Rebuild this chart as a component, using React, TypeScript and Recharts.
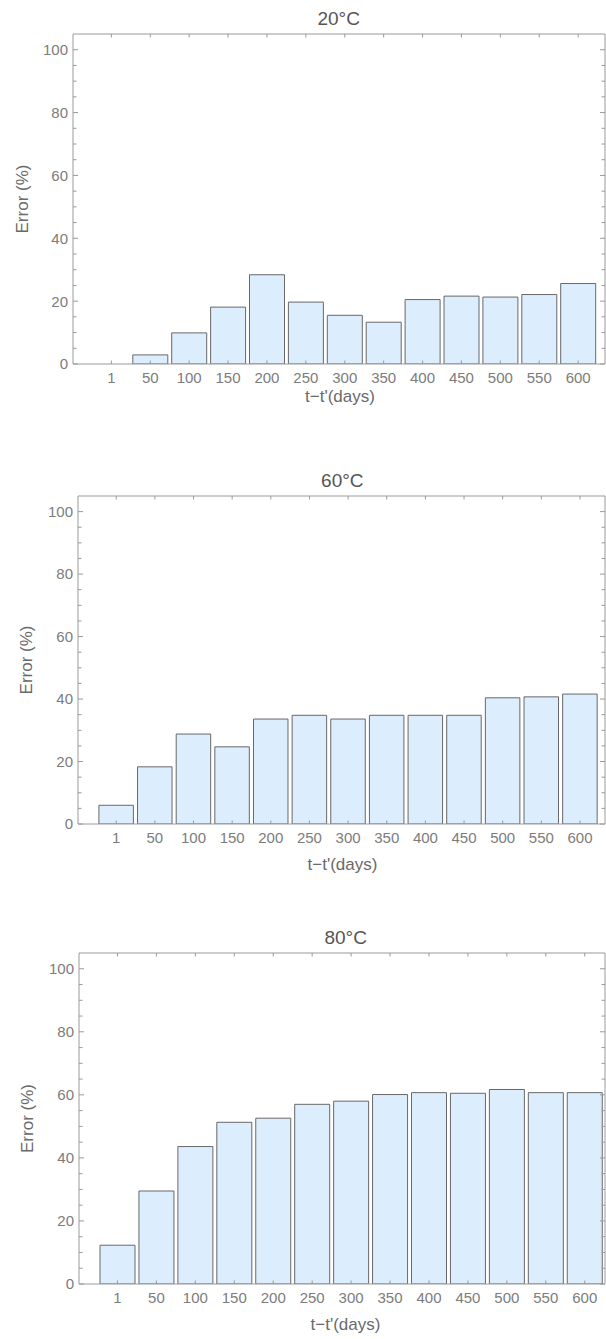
import React from 'react';
import { BarChart, Bar, XAxis, YAxis, Label } from 'recharts';

// ---- data ----
const categories = ['1', '50', '100', '150', '200', '250', '300', '350', '400', '450', '500', '550', '600'];
const error20C = [0, 2.9, 9.9, 18.1, 28.4, 19.7, 15.5, 13.3, 20.5, 21.6, 21.3, 22.1, 25.6];
const error60C = [6.0, 18.3, 28.8, 24.7, 33.6, 34.8, 33.6, 34.8, 34.8, 34.8, 40.4, 40.7, 41.6];
const error80C = [12.3, 29.5, 43.6, 51.3, 52.6, 57.0, 58.0, 60.1, 60.7, 60.5, 61.7, 60.7, 60.7];
const panelTitles = ['20°C', '60°C', '80°C'];
const yTicks = [0, 5, 10, 15, 20, 25, 30, 35, 40, 45, 50, 55, 60, 65, 70, 75, 80, 85, 90, 95, 100];
const yMajorTicks = [0, 20, 40, 60, 80, 100];
const yDomain = [0, 105];
const xAxisTitle = 't\u2212t\'(days)';
const yAxisTitle = 'Error (%)';

// ---- styles ----
const FONT = '"Liberation Sans", Arial, sans-serif';
const FRAME = '#9a9a9a';
const TICK_TEXT = '#7c7c7c';
const LABEL_TEXT = '#6a6a6a';
const TITLE_TEXT = '#555555';
const BAR_FILL = '#dcedfd';
const BAR_STROKE = '#686868';

const layouts = [
  { top: 0, height: 420, marginTop: 33, leftWidth: 73, bottomHeight: 56, padL: 18.9, padR: 7.4, barSize: 35, yLabelX: 27.7, titleCx: 338.7, titleCy: 18, xLabelCx: 340, xLabelBase: 402 },
  { top: 460, height: 420, marginTop: 35, leftWidth: 78, bottomHeight: 56, padL: 18.9, padR: 5.7, barSize: 34.5, yLabelX: 32.4, titleCx: 342.3, titleCy: 20, xLabelCx: 342.5, xLabelBase: 410 },
  { top: 920, height: 419, marginTop: 32, leftWidth: 79, bottomHeight: 55, padL: 19, padR: 0.8, barSize: 35, yLabelX: 33.1, titleCx: 345.7, titleCy: 17, xLabelCx: 345.5, xLabelBase: 410 },
];

const seriesList = [error20C, error60C, error80C];

const LeftTick = (props: any) => {
  const { x, y, payload } = props;
  const v = payload.value;
  const major = yMajorTicks.includes(v);
  return (
    <g>
      <line x1={x} x2={x + (major ? 5 : 3.5)} y1={y} y2={y} stroke={FRAME} strokeWidth={1} />
      {major && (
        <text x={x - 5} y={y + 5.4} textAnchor="end" fontSize={15} fontFamily={FONT} fill={TICK_TEXT}>
          {v}
        </text>
      )}
    </g>
  );
};

const RightTick = (props: any) => {
  const { x, y, payload } = props;
  const major = yMajorTicks.includes(payload.value);
  return <line x1={x - (major ? 5 : 3.5)} x2={x} y1={y} y2={y} stroke={FRAME} strokeWidth={1} />;
};

const BottomTick = (props: any) => {
  const { x, y, payload } = props;
  return (
    <g>
      <line x1={x} x2={x} y1={y} y2={y - 3.5} stroke={FRAME} strokeWidth={1} />
      <text x={x} y={y + 19} textAnchor="middle" fontSize={15} fontFamily={FONT} fill={TICK_TEXT}>
        {payload.value}
      </text>
    </g>
  );
};

const TopTick = (props: any) => {
  const { x, y } = props;
  return <line x1={x} x2={x} y1={y} y2={y + 3.5} stroke={FRAME} strokeWidth={1} />;
};

function Panel({ index }: { index: number }) {
  const L = layouts[index];
  const values = seriesList[index];
  const data = categories.map((c, i) => ({ cat: c, v: values[i] }));
  return (
    <div style={{ position: 'absolute', left: 0, top: L.top, width: 606, height: L.height }}>
      <BarChart
        width={606}
        height={L.height}
        data={data}
        margin={{ top: L.marginTop, right: 0, bottom: 0, left: 0 }}
        barCategoryGap={0}
      >
        <XAxis
          dataKey="cat"
          xAxisId="bottom"
          orientation="bottom"
          height={L.bottomHeight}
          padding={{ left: L.padL, right: L.padR }}
          tickSize={0}
          tickMargin={0}
          interval={0}
          tickLine={false}
          axisLine={{ stroke: FRAME, strokeWidth: 1 }}
          tick={<BottomTick />}
        >
          <Label
            content={() => (
              <text x={L.xLabelCx} y={L.xLabelBase} textAnchor="middle" fontSize={17} fontFamily={FONT} fill={LABEL_TEXT}>
                {xAxisTitle}
              </text>
            )}
          />
        </XAxis>
        <XAxis
          dataKey="cat"
          xAxisId="top"
          orientation="top"
          height={1}
          padding={{ left: L.padL, right: L.padR }}
          tickSize={0}
          tickMargin={0}
          interval={0}
          tickLine={false}
          axisLine={{ stroke: FRAME, strokeWidth: 1 }}
          tick={<TopTick />}
        >
          <Label
            content={() => (
              <text x={L.titleCx} y={L.titleCy + 6.9} textAnchor="middle" fontSize={19} fontFamily={FONT} fill={TITLE_TEXT}>
                {panelTitles[index]}
              </text>
            )}
          />
        </XAxis>
        <YAxis
          yAxisId="left"
          orientation="left"
          width={L.leftWidth}
          type="number"
          domain={yDomain}
          allowDataOverflow
          ticks={yTicks}
          interval={0}
          tickSize={0}
          tickMargin={0}
          tickLine={false}
          axisLine={{ stroke: FRAME, strokeWidth: 1 }}
          tick={<LeftTick />}
        >
          <Label
            content={(p: any) => {
              const vb = p.viewBox || { y: 0, height: 0 };
              const cy = vb.y + vb.height / 2;
              return (
                <text
                  x={L.yLabelX}
                  y={cy}
                  transform={`rotate(-90 ${L.yLabelX} ${cy})`}
                  textAnchor="middle"
                  fontSize={17}
                  fontFamily={FONT}
                  fill={LABEL_TEXT}
                >
                  {yAxisTitle}
                </text>
              );
            }}
          />
        </YAxis>
        <YAxis
          yAxisId="right"
          orientation="right"
          width={1}
          type="number"
          domain={yDomain}
          allowDataOverflow
          ticks={yTicks}
          interval={0}
          tickSize={0}
          tickMargin={0}
          tickLine={false}
          axisLine={{ stroke: FRAME, strokeWidth: 1 }}
          tick={<RightTick />}
        />
        <Bar
          dataKey="v"
          xAxisId="bottom"
          yAxisId="left"
          fill={BAR_FILL}
          stroke={BAR_STROKE}
          strokeWidth={1}
          barSize={L.barSize}
          isAnimationActive={false}
        />
      </BarChart>
    </div>
  );
}

export default function App() {
  return (
    <div style={{ position: 'relative', width: 606, height: 1339, background: '#fff' }}>
      <style>{'body{margin:0;background:#fff}'}</style>
      <Panel index={0} />
      <Panel index={1} />
      <Panel index={2} />
    </div>
  );
}
